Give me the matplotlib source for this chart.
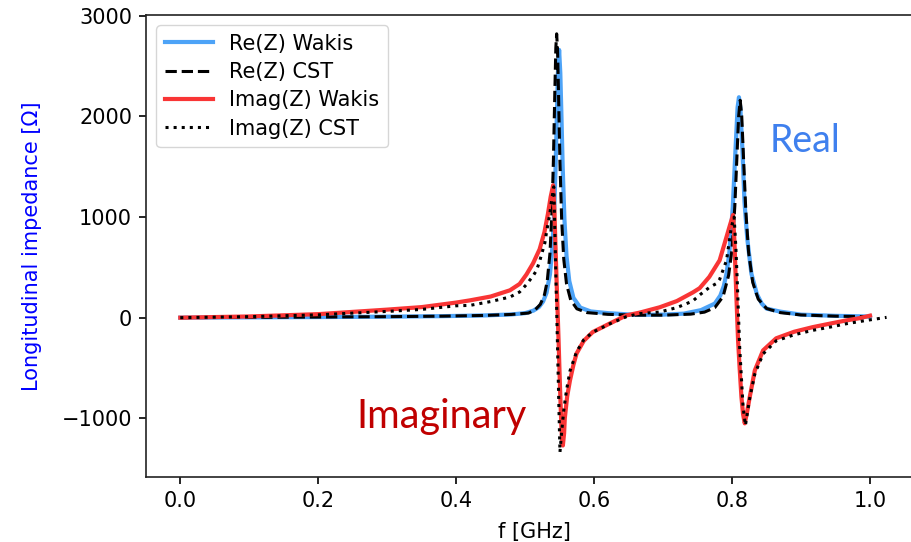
import matplotlib
matplotlib.use("Agg")
import matplotlib.pyplot as plt

# Re(Z), Wakis
f_re_wakis = [0.0, 0.10, 0.20, 0.30, 0.38, 0.44, 0.48, 0.50, 0.512, 0.520, 0.526, 0.531,
              0.536, 0.5395, 0.542, 0.544, 0.546, 0.5475, 0.5493, 0.551, 0.5527, 0.5545,
              0.557, 0.560, 0.564, 0.570, 0.580, 0.595, 0.62, 0.66, 0.70, 0.73, 0.755,
              0.775, 0.783, 0.788, 0.792, 0.796, 0.801, 0.805, 0.808, 0.810, 0.812,
              0.815, 0.818, 0.822, 0.828, 0.836, 0.843, 0.85, 0.87, 0.90, 0.95, 1.0]
re_wakis = [0, 3, 6, 10, 15, 22, 32, 45, 70, 105, 160, 246,
            431, 700, 1040, 1460, 2018, 2430, 2660, 2430, 1990, 1486,
            974, 612, 364, 197, 100, 62, 45, 28, 30, 40, 75,
            140, 220, 314, 440, 640, 1095, 1673, 2087, 2190, 2087,
            1673, 1150, 788, 438, 234, 140, 90, 60, 30, 18, 12]

# Re(Z), CST
f_re_cst = [0.0, 0.10, 0.20, 0.30, 0.38, 0.44, 0.48, 0.505, 0.515, 0.522, 0.528, 0.532,
            0.536, 0.539, 0.541, 0.543, 0.5445, 0.5457, 0.547, 0.5485, 0.5505, 0.553,
            0.556, 0.560, 0.566, 0.575, 0.59, 0.62, 0.66, 0.70, 0.74, 0.76, 0.775,
            0.787, 0.795, 0.800, 0.804, 0.807, 0.8095, 0.8118, 0.814, 0.8165, 0.820,
            0.824, 0.830, 0.838, 0.85, 0.87, 0.90, 0.95, 1.0]
re_cst = [0, 3, 6, 10, 15, 22, 32, 46, 81, 132, 227, 361,
          640, 1073, 1565, 2230, 2680, 2820, 2657, 2196, 1536, 962,
          581, 335, 176, 88, 50, 33, 25, 25, 35, 55, 100,
          210, 420, 680, 1107, 1588, 1995, 2160, 2008, 1606, 1053,
          649, 350, 184, 91, 50, 27, 15, 10]

# Imag(Z), Wakis
f_im_wakis = [0.0, 0.10, 0.20, 0.30, 0.35, 0.40, 0.42, 0.45, 0.478, 0.492, 0.502, 0.5115,
              0.521, 0.528, 0.533, 0.537, 0.5406, 0.5425, 0.5445, 0.5465, 0.5485, 0.5505,
              0.5525, 0.554, 0.5547, 0.5565, 0.5575, 0.561, 0.565, 0.570, 0.5745, 0.585,
              0.598, 0.623, 0.647, 0.666, 0.695, 0.72, 0.743, 0.753, 0.767, 0.782, 0.792,
              0.797, 0.8014, 0.8035, 0.8054, 0.807, 0.8087, 0.811, 0.8136, 0.816, 0.8184,
              0.822, 0.8256, 0.833, 0.845, 0.864, 0.89, 0.917, 0.945, 0.966, 0.985, 1.0]
im_wakis = [0, 12, 35, 80, 105, 150, 172, 210, 272, 335, 430, 540,
            680, 850, 1030, 1200, 1316, 1050, 600, 180, -230, -680,
            -1080, -1250, -1270, -1150, -1000, -780, -624, -470, -357, -230,
            -143, -57, 23, 50, 103, 165, 250, 293, 405, 570, 803,
            920, 1020, 750, 371, 80, -224, -500, -790, -960, -1050,
            -930, -790, -524, -325, -205, -140, -94, -55, -27, -5, 20]

# Imag(Z), CST
f_im_cst = [0.0, 0.10, 0.20, 0.30, 0.35, 0.40, 0.42, 0.45, 0.478, 0.492, 0.502, 0.512,
            0.5165, 0.521, 0.5285, 0.531, 0.5358, 0.538, 0.5415, 0.5435, 0.5455, 0.5475,
            0.5495, 0.5505, 0.5515, 0.553, 0.556, 0.560, 0.565, 0.5745, 0.585, 0.598,
            0.623, 0.647, 0.666, 0.695, 0.72, 0.743, 0.753, 0.767, 0.7775, 0.782, 0.792,
            0.799, 0.803, 0.8055, 0.8075, 0.811, 0.816, 0.8194, 0.8256, 0.833, 0.845,
            0.864, 0.89, 0.917, 0.945, 0.966, 0.995, 1.024]
im_cst = [0, 10, 28, 62, 82, 118, 122, 160, 205, 255, 330, 420,
          470, 560, 740, 850, 1030, 1150, 1300, 750, 150, -450,
          -1050, -1337, -1250, -1130, -920, -720, -530, -340, -220, -145,
          -60, 10, 40, 56, 100, 165, 225, 300, 340, 380, 570,
          900, 1000, 700, 371, -290, -890, -1070, -800, -560, -360,
          -230, -170, -126, -90, -60, -27, 3]

plt.rcParams["font.family"] = ["DejaVu Sans"]
plt.rcParams["font.size"] = 15

fig = plt.figure(figsize=(9.12, 5.42), dpi=100)
# plot area runs off the right edge of the canvas, so no right spine shows
ax = fig.add_axes([146 / 912, 65 / 542, 766 / 912, 462 / 542])

ax.plot(f_re_wakis, re_wakis, color="#4da3f7", lw=3.0, label="Re(Z) Wakis")
ax.plot(f_re_cst, re_cst, color="black", ls="--", lw=2.2, label="Re(Z) CST")
ax.plot(f_im_wakis, im_wakis, color="#f93535", lw=3.0, label="Imag(Z) Wakis")
ax.plot(f_im_cst, im_cst, color="black", ls=":", lw=2.2, label="Imag(Z) CST")

ax.set_xlim(-0.0497, 1.0609)
ax.set_ylim(-1583, 3007)
ax.set_xticks([0.0, 0.2, 0.4, 0.6, 0.8, 1.0])
ax.set_yticks([-1000, 0, 1000, 2000, 3000])
ax.tick_params(length=5, width=1.2, pad=5, labelsize=15)
for sp in ax.spines.values():
    sp.set_linewidth(1.2)
    sp.set_color("#222222")
ax.spines["right"].set_visible(False)

ax.set_xlabel("f [GHz]", fontsize=15)
ax.xaxis.set_label_coords(0.5065, -0.098)
ax.set_ylabel("Longitudinal impedance [Ω]", fontsize=15, color="blue")
ax.yaxis.set_label_coords(-0.134 * 776 / 766, 0.5)

ax.legend(loc="upper left", fontsize=15, labelspacing=0.4, handlelength=2.3,
          borderaxespad=0.5)

fig.text(770 / 912, 390 / 542, "Real", color="#3f80ee", fontsize=27,
         family=["Lato", "DejaVu Sans"], ha="left", va="baseline")
fig.text(356 / 912, 114 / 542, "Imaginary", color="#c00000", fontsize=28.5,
         family=["Lato", "DejaVu Sans"], ha="left", va="baseline")

fig.savefig("out.png", dpi=100)
